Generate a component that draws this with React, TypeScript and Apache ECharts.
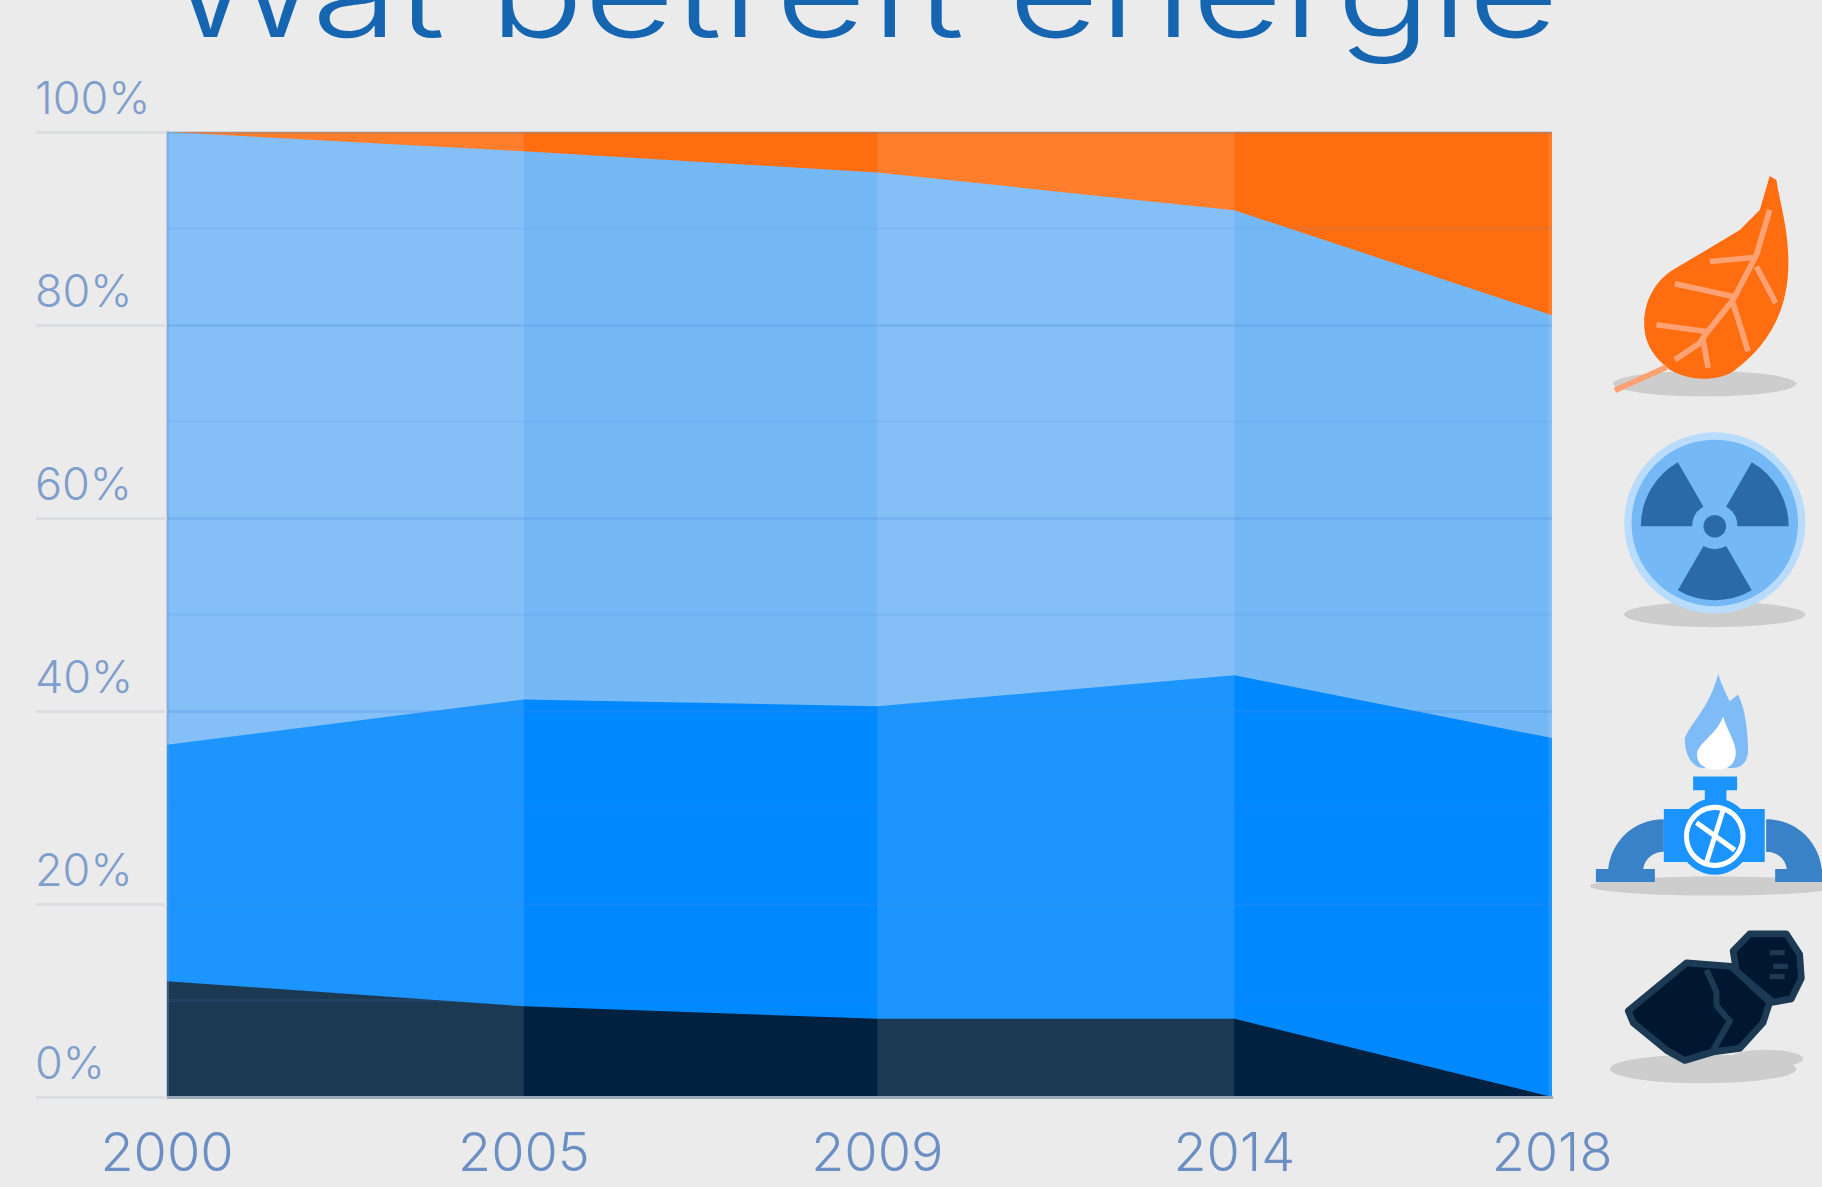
import React, { useEffect, useRef } from "react";
import * as echarts from "echarts";

const years = ["2000", "2005", "2009", "2014", "2018"];
// ordinal slot of each survey on the (slightly uneven) horizontal axis
const xSlots = [0, 1, 1.99, 2.99, 3.88];
const coal = [12, 9.4, 8.1, 8.1, 0];
const gas = [24.5, 31.8, 32.4, 35.6, 37.2];
const nuclear = [63.5, 56.8, 55.3, 48.2, 43.8];
const renewable = [0, 2, 4.2, 8.1, 19];
const titleText = "Wat betreft energie";
const FONT = "Inter, 'Noto Sans', sans-serif";
const SHADOW = "#cdcdcd";

const leafD = "M810 138 L830 150 C840 220 866 290 866 400 C866 560 790 660 700 725 C650 755 570 755 510 720 C460 680 433 640 433 580 C433 510 470 450 520 420 L620 360 L720 300 L780 240 L795 190 Z";
const flameOuterD = "M655 70 C665 100 680 130 690 150 L715 130 C735 170 745 230 745 300 C740 330 725 345 700 345 L610 345 C580 345 555 310 555 260 C565 220 630 170 655 70 Z";
const flameInnerD = "M670 195 C685 240 708 270 708 300 C708 330 690 350 650 350 C610 350 588 330 592 298 C605 265 650 245 670 195 Z";
const pipeD = "M492 495 C400 495 335 560 325 640 L288 640 L288 678 L465 678 L465 640 L430 640 C435 610 460 590 492 590 Z";
echarts.graphic.registerShape("leafIcon", echarts.graphic.extendPath(leafD, {}));
echarts.graphic.registerShape("flameOuterIcon", echarts.graphic.extendPath(flameOuterD, {}));
echarts.graphic.registerShape("flameInnerIcon", echarts.graphic.extendPath(flameInnerD, {}));
echarts.graphic.registerShape("pipeIcon", echarts.graphic.extendPath(pipeD, {}));

const leafVeins = [
  [[345,782],[500,712]],
  [[810,240],[770,375],[700,510],[620,610],[600,640],[525,690]],
  [[770,382],[630,395]],
  [[770,410],[828,520]],
  [[700,500],[525,462]],
  [[700,520],[745,665]],
  [[620,605],[470,585]],
  [[610,630],[625,715]],
];
const coalBig = [[385,1055],[560,915],[695,925],[810,1030],[790,1090],[720,1165],[640,1175],[555,1200],[500,1170],[400,1090]];
const coalSeam = [[620,935],[650,1000],[650,1040],[690,1085],[640,1170]];
const coalSmall = [[700,880],[750,830],[860,830],[900,890],[905,960],[875,1020],[820,1030],[710,940]];
const coalMarks = [[[810,885],[855,885]], [[820,925],[865,925]], [[810,955],[855,955]]];

const deg = (d: number) => (d * Math.PI) / 180;

function iconsUpper() {
  const blades = [[180, 240], [300, 360], [60, 120]].map(([s, e]) => ({
    type: "sector",
    shape: { cx: 645, cy: 1190, r: 222, r0: 68, startAngle: deg(s), endAngle: deg(e), clockwise: true },
    style: { fill: "#2a6aa9" },
  }));
  return {
    type: "group", x: 1500, y: 130, scaleX: 1 / 3, scaleY: 1 / 3, silent: true,
    children: [
      { type: "ellipse", shape: { cx: 615, cy: 762, rx: 275, ry: 38 }, style: { fill: SHADOW } },
      { type: "leafIcon", style: { fill: "#ff6d11" } },
      ...leafVeins.map((p) => ({ type: "polyline", shape: { points: p }, style: { stroke: "#ffa273", lineWidth: 17, fill: "none" } })),
      { type: "ellipse", shape: { cx: 645, cy: 1455, rx: 272, ry: 38 }, style: { fill: SHADOW } },
      { type: "circle", shape: { cx: 645, cy: 1180, r: 272 }, style: { fill: "#b9dcfd" } },
      { type: "circle", shape: { cx: 645, cy: 1180, r: 250 }, style: { fill: "#75b8f6" } },
      ...blades,
      { type: "circle", shape: { cx: 645, cy: 1190, r: 34 }, style: { fill: "#2a6aa9" } },
    ],
  };
}

function iconsLower() {
  return {
    type: "group", x: 1500, y: 650, scaleX: 1 / 3, scaleY: 1 / 2.92, silent: true,
    children: [
      { type: "ellipse", shape: { cx: 645, cy: 690, rx: 375, ry: 28 }, style: { fill: SHADOW } },
      { type: "flameOuterIcon", style: { fill: "#7fbcf7" } },
      { type: "flameInnerIcon", style: { fill: "#ffffff" } },
      { type: "pipeIcon", style: { fill: "#3a82c8" } },
      { type: "pipeIcon", x: 1290, scaleX: -1, style: { fill: "#3a82c8" } },
      { type: "rect", shape: { x: 580, y: 370, width: 132, height: 40 }, style: { fill: "#1c94ff" } },
      { type: "rect", shape: { x: 615, y: 408, width: 65, height: 35 }, style: { fill: "#1c94ff" } },
      { type: "rect", shape: { x: 492, y: 465, width: 303, height: 155 }, style: { fill: "#1c94ff" } },
      { type: "circle", shape: { cx: 645, cy: 545, r: 112 }, style: { fill: "#1c94ff" } },
      { type: "circle", shape: { cx: 645, cy: 545, r: 85 }, style: { fill: "none", stroke: "#ffffff", lineWidth: 15 } },
      { type: "line", shape: { x1: 590, y1: 505, x2: 705, y2: 585 }, style: { stroke: "#ffffff", lineWidth: 15 } },
      { type: "line", shape: { x1: 620, y1: 622, x2: 670, y2: 468 }, style: { stroke: "#ffffff", lineWidth: 15 } },
      { type: "ellipse", shape: { cx: 610, cy: 1225, rx: 280, ry: 42 }, style: { fill: SHADOW } },
      { type: "ellipse", shape: { cx: 800, cy: 1195, rx: 110, ry: 26 }, style: { fill: SHADOW } },
      { type: "polygon", shape: { points: coalSmall }, style: { fill: "#00182f", stroke: "#1d3a55", lineWidth: 20, lineJoin: "round" } },
      ...coalMarks.map((p) => ({ type: "polyline", shape: { points: p }, style: { stroke: "#1d3a55", lineWidth: 15, fill: "none" } })),
      { type: "polygon", shape: { points: coalBig }, style: { fill: "#00182f", stroke: "#1d3a55", lineWidth: 20, lineJoin: "round" } },
      { type: "polyline", shape: { points: coalSeam }, style: { stroke: "#1d3a55", lineWidth: 18, fill: "none" } },
    ],
  };
}

// Running totals: each share is painted from the axis up to its cumulative
// top, topmost layer first, so the visible bands are exactly the shares.
const layers = [
  { name: "Kolen", values: coal, color: "#00213f" },
  { name: "Gas", values: gas, color: "#0088ff" },
  { name: "Kernenergie", values: nuclear, color: "#75b8f6" },
  { name: "Hernieuwbaar", values: renewable, color: "#ff6d11" },
];
const running = years.map(() => 0);
const stacked = layers.map((l) => {
  const tops = l.values.map((v, i) => (running[i] += v));
  return { ...l, tops };
});
const layerSeries = [...stacked].reverse().map((l) => ({
  name: l.name,
  type: "line",
  data: l.tops.map((v, i) => [xSlots[i], v]),
  showSymbol: false,
  lineStyle: { width: 0 },
  areaStyle: { color: l.color, opacity: 1 },
  silent: true,
}));

export default function App() {
  const ref = useRef<HTMLDivElement>(null);
  useEffect(() => {
    document.body.style.margin = "0";
    document.body.style.background = "#ebebeb";
    const chart = echarts.init(ref.current!, undefined, { renderer: "svg" });
    chart.setOption({
      animation: false,
      backgroundColor: "#ebebeb",
      grid: { left: 167, right: 270, top: 132, bottom: 90 },
      xAxis: {
        type: "value",
        min: 0,
        max: xSlots[xSlots.length - 1],
        splitLine: { show: false },
        axisTick: { show: false },
        axisLine: { show: true, lineStyle: { color: "#9aa9b5", width: 3 } },
        z: 5,
        axisLabel: {
          customValues: xSlots,
          formatter: (v: number) => years[xSlots.indexOf(v)] ?? "",
          fontFamily: FONT,
          fontSize: 54,
          fontWeight: 300,
          color: "#6c8fc3",
          margin: 27,
          showMinLabel: true,
          showMaxLabel: true,
        },
      },
      yAxis: {
        type: "value",
        min: 0,
        max: 100,
        interval: 20,
        z: 5,
        axisLine: { show: true, lineStyle: { color: "rgba(110,150,200,0.35)", width: 3 } },
        axisTick: { show: true, length: 131, lineStyle: { color: "#dcdde0", width: 3 } },
        minorTick: { show: false, splitNumber: 2 },
        splitLine: { show: true, lineStyle: { color: "rgba(70,140,225,0.22)", width: 3 } },
        minorSplitLine: { show: true, lineStyle: { color: "rgba(70,140,225,0.1)", width: 3 } },
        axisLabel: {
          formatter: "{value}%",
          align: "left",
          verticalAlign: "bottom",
          padding: [0, 0, 12, 0],
          margin: 132,
          fontFamily: FONT,
          fontSize: 45,
          fontWeight: 300,
          color: "#7f9ecb",
        },
      },
      series: [
        ...layerSeries,
        {
          name: "bands",
          type: "line",
          data: [[xSlots[0], 0]],
          showSymbol: false,
          lineStyle: { width: 0 },
          silent: true,
          markArea: {
            silent: true,
            z: 4,
            itemStyle: { color: "rgba(255,255,255,0.11)" },
            data: [
              [{ xAxis: xSlots[0] }, { xAxis: xSlots[1] }],
              [{ xAxis: xSlots[2] }, { xAxis: xSlots[3] }],
              [{ xAxis: 3.87 }, { xAxis: xSlots[4] }],
            ],
          },
        },
      ],
      graphic: [
        {
          type: "text",
          x: 168,
          y: -70,
          scaleX: 1.267,
          silent: true,
          style: { text: titleText, fontFamily: FONT, fontSize: 124, fontWeight: 300, fill: "#1565b0" },
        },
        iconsUpper(),
        iconsLower(),
      ],
    });
    return () => chart.dispose();
  }, []);
  return <div ref={ref} style={{ width: 1822, height: 1187 }} />;
}
